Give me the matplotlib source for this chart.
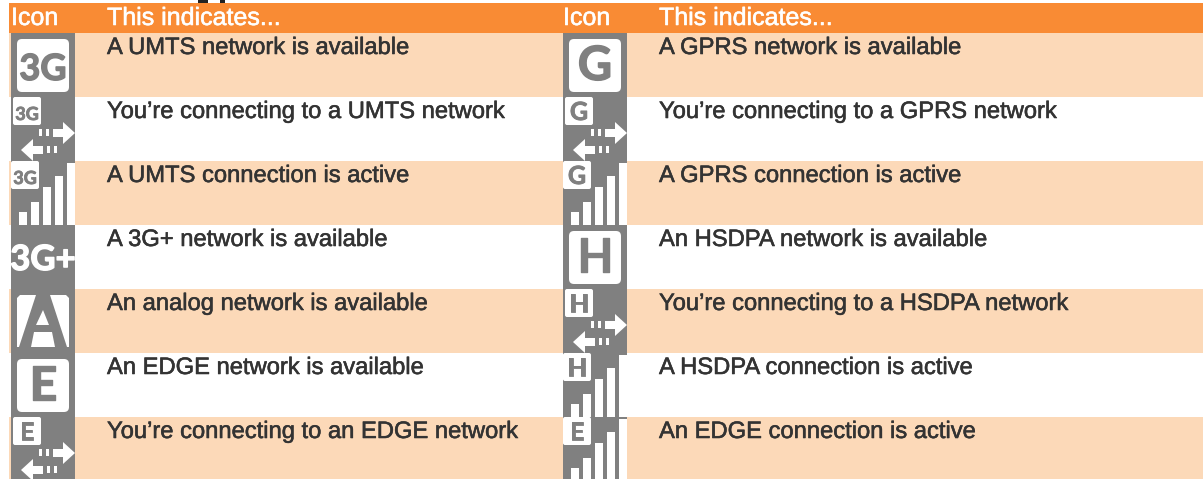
import matplotlib
matplotlib.use("Agg")
import matplotlib.pyplot as plt
import matplotlib.patheffects as pe
from matplotlib.patches import FancyBboxPatch, Polygon, Rectangle

# Table contents
header_icon = "Icon"
header_text = "This indicates..."
left_labels = [
    "A UMTS network is available",
    "You\u2019re connecting to a UMTS network",
    "A UMTS connection is active",
    "A 3G+ network is available",
    "An analog network is available",
    "An EDGE network is available",
    "You\u2019re connecting to an EDGE network",
]
right_labels = [
    "A GPRS network is available",
    "You\u2019re connecting to a GPRS network",
    "A GPRS connection is active",
    "An HSDPA network is available",
    "You\u2019re connecting to a HSDPA network",
    "A HSDPA connection is active",
    "An EDGE connection is active",
]
# icon letters and kinds: big = available, conn = connecting, sig = active
left_letters = ["3G", "3G", "3G", "3G+", "A", "E", "E"]
left_kinds = ["big", "conn", "sig", "plain", "analog", "big", "conn"]
right_letters = ["G", "G", "G", "H", "H", "H", "E"]
right_kinds = ["big", "conn", "sig", "big", "conn", "sig", "sig"]

ORANGE = "#f98b34"
PEACH = "#fcd9b8"
GREY = "#808080"
TEXT = "#333333"
FONT = "Liberation Sans"
ICON_FONT = "Lato"
ROW_H = 64
ICON_W = 64

fig = plt.figure(figsize=(12.03, 4.79), dpi=100)
ax = fig.add_axes([0, 0, 1, 1])
ax.set_xlim(0, 1203)
ax.set_ylim(479, 0)
ax.axis("off")

grey_fx = [pe.withStroke(linewidth=1.0, foreground=GREY)]
grey_fx_small = [pe.withStroke(linewidth=0.6, foreground=GREY)]
white_fx_big = [pe.withStroke(linewidth=1.0, foreground="white")]


def white_poly(x, y, pts):
    ax.add_patch(Polygon([(x + a, y + b) for a, b in pts], fc="white", ec="none", zorder=3))


def small_badge(x, y, letter):
    ax.add_patch(FancyBboxPatch((x + 1, y + 1), 26, 26, boxstyle="round,pad=1,rounding_size=2",
                                fc="white", ec="none", zorder=3))
    size = 13 if len(letter) == 2 else 18
    ax.text(x + 14, y + 23, letter, color=GREY, fontsize=size, fontweight="bold", family=ICON_FONT,
            ha="center", va="baseline", zorder=4, path_effects=grey_fx_small)


def draw_icon(x, y, letter, kind):
    ax.add_patch(Rectangle((x, y), ICON_W, ROW_H, fc=GREY, ec="none", zorder=2))
    if kind == "big":
        ax.add_patch(FancyBboxPatch((x + 9, y + 9), 46, 47, boxstyle="round,pad=3,rounding_size=5",
                                    fc="white", ec="none", zorder=3))
        size = 26 if len(letter) == 2 else 34
        ax.text(x + 32, y + 47, letter, color=GREY, fontsize=size,
                fontweight="bold", family=ICON_FONT, ha="center", va="baseline", zorder=4,
                path_effects=grey_fx)
    elif kind == "plain":
        ax.text(x + 32, y + 45, letter, color="white", fontsize=25, fontweight="bold",
                family=ICON_FONT, ha="center", va="baseline", zorder=4, path_effects=white_fx_big)
    elif kind == "analog":
        # reversed letter A: only the white parts around it are drawn
        white_poly(x, y, [(9, 6), (25, 6), (8, 58), (6, 58), (6, 9)])
        white_poly(x, y, [(39, 6), (55, 6), (58, 9), (58, 58), (56, 58)])
        white_poly(x, y, [(32, 21), (38, 36), (25, 36)])
        white_poly(x, y, [(23, 43), (41, 43), (44, 58), (20, 58)])
    elif kind == "conn":
        small_badge(x + 2, y, letter)
        yr = 36
        yl = 53
        white_poly(x, y, [(42, yr - 4), (52, yr - 4), (52, yr - 11), (64, yr),
                          (52, yr + 11), (52, yr + 4), (42, yr + 4)])
        white_poly(x, y, [(32, yl - 4), (22, yl - 4), (22, yl - 11), (10, yl),
                          (22, yl + 11), (22, yl + 4), (32, yl + 4)])
        for dx in (28, 35):
            ax.add_patch(Rectangle((x + dx, y + yr - 4), 3, 7, fc="white", ec="none", zorder=3))
        for dx in (36, 43):
            ax.add_patch(Rectangle((x + dx, y + yl - 4), 3, 7, fc="white", ec="none", zorder=3))
    elif kind == "sig":
        small_badge(x, y, letter)
        for dx, top in zip((8, 20, 32, 44, 56), (51, 41, 26, 15, 2)):
            ax.add_patch(Rectangle((x + dx, y + top), 8, ROW_H - top, fc="white", ec="none", zorder=3))


# Backgrounds
for i in range(7):
    if i % 2 == 0:
        ax.add_patch(Rectangle((9, 33 + i * ROW_H), 1194, ROW_H, fc=PEACH, ec="none", zorder=1))
ax.add_patch(Rectangle((9, 3), 1194, 30, fc=ORANGE, ec="none", zorder=5))

# bits of the cropped heading above the table
ax.add_patch(Rectangle((198, 0), 10, 3, fc="#222222", ec="none", zorder=1))
ax.add_patch(Rectangle((220, 0), 5, 3, fc="#222222", ec="none", zorder=1))

white_fx = [pe.withStroke(linewidth=0.4, foreground="white")]
dark_fx = [pe.withStroke(linewidth=0.4, foreground=TEXT)]

# Columns
for icon_x, text_x, labels, letters, kinds in [
    (11, 107, left_labels, left_letters, left_kinds),
    (563, 659, right_labels, right_letters, right_kinds),
]:
    ax.text(icon_x, 25, header_icon, color="white", fontsize=18, family=FONT, va="baseline",
            zorder=6, path_effects=white_fx)
    ax.text(text_x, 25, header_text, color="white", fontsize=18, family=FONT, va="baseline",
            zorder=6, path_effects=white_fx)
    for i in range(7):
        y = 33 + i * ROW_H
        draw_icon(icon_x, y, letters[i], kinds[i])
        ax.text(text_x, y + 21, labels[i], color=TEXT, fontsize=17.1, family=FONT, va="baseline",
                zorder=6, path_effects=dark_fx)

fig.savefig("out.png", dpi=100)
